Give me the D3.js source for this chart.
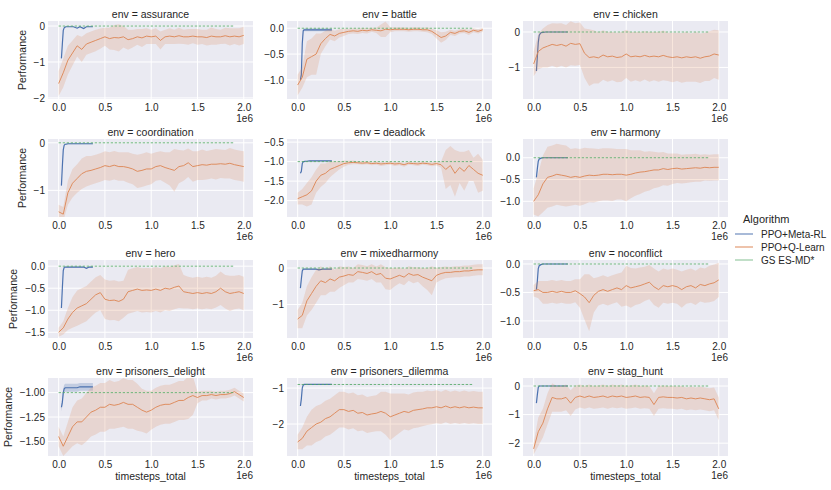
<!DOCTYPE html>
<html>
<head>
<meta charset="utf-8">
<script src="https://cdn.jsdelivr.net/npm/d3@7"></script>
<style>
  body { margin: 0; background: #ffffff; }
  svg { font-family: "Liberation Sans", Arial, sans-serif; }
</style>
</head>
<body>
<svg id="chart" width="831" height="490"></svg>
<script>
// ---- data (timesteps in units of 1e6) ----
const envs = ["assurance", "battle", "chicken", "coordination", "deadlock", "harmony",
    "hero", "mixedharmony", "noconflict", "prisoners_delight", "prisoners_dilemma", "stag_hunt"];
const algorithms = ["PPO+Meta-RL", "PPO+Q-Learn", "GS ES-MD*"];

const qSteps = [0, 0.05, 0.1, 0.15, 0.2, 0.25, 0.3, 0.35, 0.4, 0.45, 0.5, 0.55, 0.6, 0.65, 0.7, 0.75, 0.8, 0.85, 0.9, 0.95,
    1.0, 1.05, 1.1, 1.15, 1.2, 1.25, 1.3, 1.35, 1.4, 1.45, 1.5, 1.55, 1.6, 1.65, 1.7, 1.75, 1.8, 1.85, 1.9, 1.95, 2.0];
const metaSteps = [0.03, 0.04, 0.05, 0.06, 0.07, 0.08, 0.1, 0.13, 0.16, 0.2, 0.23, 0.27, 0.3, 0.33, 0.37];
const gsSpan = [0, 1.9];

const gsLevel = [0, 0, 0, 0, -1.0, 0, 0, 0, 0, -1.0, -0.9, 0];

const yLo = [-2.03, -1.37, -1.89, -1.56, -2.42, -1.36, -1.63, -1.92, -1.30, -1.65, -2.89, -2.45];
const yHi = [0.14, 0.14, 0.31, 0.08, -0.42, 0.43, 0.14, 0.22, 0.07, -0.85, -0.72, 0.28];
const yTicks = [
    [0, -1, -2], [0, -0.5, -1], [0, -1], [0, -1], [-0.5, -1, -1.5, -2], [0, -0.5, -1],
    [0, -0.5, -1, -1.5], [0, -1], [0, -0.5, -1], [-1, -1.25, -1.5], [-1, -2], [0, -1, -2]
];
const yTickDigits = [0, 1, 0, 0, 1, 1, 1, 0, 1, 2, 0, 0];
const xTicks = [0, 0.5, 1.0, 1.5, 2.0];

// PPO+Meta-RL
const assuranceMeta = [-0.9, -0.5, -0.12, -0.05, -0.03, -0.02, -0.02, -0.02, -0.02, -0.06, -0.02, -0.07, -0.02, -0.02, -0.02];
const battleMeta = [-1.0, -0.9, -0.3, -0.05, -0.03, -0.03, -0.03, -0.03, -0.03, -0.03, -0.03, -0.03, -0.03, -0.03, -0.03];
const chickenMeta = [-1.1, -0.7, -0.3, -0.1, -0.05, -0.02, -0.01, 0, 0, 0, 0, 0, 0, 0, 0];
const coordinationMeta = [-0.9, -0.5, -0.15, -0.05, -0.03, -0.03, -0.02, -0.02, -0.02, -0.02, -0.02, -0.02, -0.02, -0.02, -0.02];
const deadlockMeta = [-1.3, -1.25, -1.05, -1.0, -1.0, -0.99, -0.99, -0.98, -0.98, -0.98, -0.98, -0.98, -0.98, -0.98, -0.98];
const harmonyMeta = [-0.45, -0.25, -0.08, -0.03, -0.02, -0.01, 0, 0, 0, 0, 0, 0, 0, 0, 0];
const heroMeta = [-0.95, -0.5, -0.1, -0.03, -0.02, -0.02, -0.02, -0.02, -0.02, -0.02, -0.02, -0.02, -0.05, -0.02, -0.02];
const mixedharmonyMeta = [-0.55, -0.3, -0.08, -0.03, -0.03, -0.03, -0.03, -0.03, -0.03, -0.03, -0.05, -0.03, -0.03, -0.03, -0.03];
const noconflictMeta = [-0.45, -0.3, -0.08, -0.03, -0.02, -0.01, 0, 0, 0, 0, 0, 0, 0, 0, 0];
const delightMeta = [-1.15, -1.1, -1.0, -0.96, -0.95, -0.95, -0.95, -0.95, -0.95, -0.95, -0.94, -0.94, -0.94, -0.94, -0.94];
const dilemmaMeta = [-1.5, -1.3, -1.0, -0.92, -0.9, -0.9, -0.9, -0.9, -0.9, -0.9, -0.9, -0.9, -0.9, -0.9, -0.9];
const staghuntMeta = [-0.6, -0.3, -0.05, 0, 0, 0, 0, 0, 0, 0, 0, 0, 0, 0, 0];
const metaBand = [0.01, 0.03, 0.01, 0.01, 0.01, 0.01, 0.01, 0.01, 0.01, 0.04, 0.01, 0.01];

// PPO+Q-Learn mean and band half width
const assuranceQ = [-1.6, -1.3, -0.95, -0.75, -0.55, -0.65, -0.5, -0.45, -0.4, -0.35, -0.3, -0.35, -0.32, -0.33, -0.3, -0.38, -0.35, -0.3, -0.33, -0.28,
    -0.3, -0.28, -0.4, -0.3, -0.28, -0.3, -0.27, -0.3, -0.3, -0.28, -0.3, -0.3, -0.32, -0.28, -0.3, -0.3, -0.27, -0.3, -0.28, -0.3, -0.26];
const assuranceQBand = [0.35, 0.4, 0.4, 0.35, 0.3, 0.35, 0.3, 0.3, 0.3, 0.28, 0.25, 0.3, 0.35, 0.38, 0.3, 0.28, 0.25, 0.22, 0.25, 0.22,
    0.2, 0.22, 0.25, 0.2, 0.22, 0.2, 0.22, 0.2, 0.22, 0.2, 0.22, 0.2, 0.22, 0.24, 0.22, 0.2, 0.22, 0.24, 0.22, 0.24, 0.24];

const battleQ = [-1.1, -0.95, -0.6, -0.55, -0.5, -0.3, -0.2, -0.12, -0.15, -0.1, -0.08, -0.06, -0.05, -0.06, -0.04, -0.05, -0.03, -0.04, -0.05, -0.02,
    -0.03, -0.02, -0.02, -0.02, -0.03, -0.02, -0.02, -0.03, -0.03, -0.06, -0.12, -0.18, -0.15, -0.08, -0.1, -0.06, -0.05, -0.08, -0.04, -0.06, -0.03];
const battleQBand = [0.2, 0.2, 0.35, 0.35, 0.4, 0.2, 0.15, 0.1, 0.1, 0.08, 0.07, 0.05, 0.05, 0.05, 0.05, 0.05, 0.04, 0.05, 0.12, 0.15,
    0.05, 0.04, 0.04, 0.04, 0.04, 0.04, 0.04, 0.04, 0.05, 0.05, 0.08, 0.1, 0.08, 0.05, 0.05, 0.04, 0.04, 0.05, 0.04, 0.04, 0.04];

const chickenQ = [-0.9, -0.55, -0.45, -0.4, -0.35, -0.38, -0.35, -0.4, -0.32, -0.35, -0.33, -0.6, -0.72, -0.7, -0.73, -0.65, -0.7, -0.68, -0.72, -0.7,
    -0.62, -0.7, -0.68, -0.7, -0.66, -0.7, -0.68, -0.7, -0.66, -0.7, -0.72, -0.7, -0.73, -0.7, -0.72, -0.7, -0.74, -0.7, -0.68, -0.62, -0.65];
const chickenQBand = [0.35, 0.5, 0.55, 0.6, 0.6, 0.62, 0.6, 0.6, 0.62, 0.6, 0.6, 0.7, 0.8, 0.75, 0.72, 0.7, 0.7, 0.68, 0.7, 0.7,
    0.68, 0.7, 0.68, 0.7, 0.68, 0.7, 0.68, 0.7, 0.7, 0.68, 0.7, 0.68, 0.7, 0.7, 0.68, 0.7, 0.7, 0.68, 0.7, 0.68, 0.7];

const coordinationQ = [-1.45, -1.5, -1.05, -0.85, -0.75, -0.65, -0.6, -0.58, -0.55, -0.52, -0.48, -0.5, -0.47, -0.5, -0.5, -0.52, -0.55, -0.6, -0.58, -0.55,
    -0.55, -0.5, -0.48, -0.52, -0.55, -0.58, -0.5, -0.48, -0.42, -0.5, -0.48, -0.46, -0.47, -0.45, -0.45, -0.44, -0.45, -0.43, -0.46, -0.48, -0.5];
const coordinationQBand = [0.15, 0.15, 0.25, 0.3, 0.3, 0.32, 0.32, 0.3, 0.3, 0.3, 0.3, 0.3, 0.3, 0.3, 0.3, 0.32, 0.32, 0.35, 0.35, 0.35,
    0.32, 0.3, 0.3, 0.32, 0.35, 0.45, 0.35, 0.32, 0.3, 0.32, 0.3, 0.32, 0.3, 0.3, 0.32, 0.3, 0.3, 0.32, 0.32, 0.32, 0.32];

const deadlockQ = [-1.95, -1.9, -1.85, -1.75, -1.5, -1.35, -1.3, -1.2, -1.15, -1.1, -1.05, -1.03, -1.02, -1.03, -1.04, -1.03, -1.05, -1.04, -1.06, -1.05,
    -1.04, -1.06, -1.05, -1.08, -1.04, -1.05, -1.06, -1.04, -1.05, -1.07, -1.05, -1.08, -1.2, -1.1, -1.3, -1.15, -1.25, -1.1, -1.2, -1.3, -1.35];
const deadlockQBand = [0.15, 0.2, 0.3, 0.35, 0.3, 0.3, 0.25, 0.2, 0.15, 0.1, 0.08, 0.05, 0.05, 0.04, 0.04, 0.04, 0.04, 0.04, 0.05, 0.04,
    0.04, 0.05, 0.04, 0.05, 0.04, 0.04, 0.05, 0.04, 0.04, 0.05, 0.05, 0.08, 0.5, 0.5, 0.6, 0.4, 0.5, 0.4, 0.3, 0.5, 0.4];

const harmonyQ = [-1.0, -0.85, -0.6, -0.45, -0.42, -0.38, -0.4, -0.42, -0.45, -0.43, -0.45, -0.42, -0.4, -0.41, -0.4, -0.38, -0.38, -0.39, -0.38, -0.38,
    -0.4, -0.38, -0.35, -0.33, -0.32, -0.3, -0.28, -0.28, -0.25, -0.27, -0.25, -0.24, -0.26, -0.25, -0.24, -0.23, -0.24, -0.22, -0.23, -0.22, -0.22];
const harmonyQBand = [0.3, 0.5, 0.65, 0.7, 0.7, 0.7, 0.7, 0.7, 0.65, 0.65, 0.65, 0.65, 0.62, 0.62, 0.6, 0.6, 0.6, 0.6, 0.58, 0.58,
    0.6, 0.55, 0.52, 0.5, 0.46, 0.45, 0.42, 0.4, 0.38, 0.37, 0.35, 0.34, 0.33, 0.33, 0.32, 0.32, 0.31, 0.3, 0.3, 0.3, 0.3];

const heroQ = [-1.5, -1.4, -1.2, -1.05, -0.95, -0.9, -0.85, -0.75, -0.65, -0.6, -0.75, -0.78, -0.77, -0.8, -0.75, -0.58, -0.55, -0.52, -0.55, -0.54,
    -0.55, -0.52, -0.55, -0.5, -0.52, -0.48, -0.45, -0.58, -0.6, -0.62, -0.6, -0.62, -0.6, -0.62, -0.58, -0.5, -0.58, -0.62, -0.6, -0.58, -0.62];
const heroQBand = [0.1, 0.15, 0.25, 0.35, 0.4, 0.4, 0.4, 0.4, 0.4, 0.4, 0.45, 0.45, 0.45, 0.45, 0.42, 0.5, 0.5, 0.5, 0.5, 0.5,
    0.5, 0.5, 0.5, 0.5, 0.5, 0.5, 0.5, 0.38, 0.36, 0.36, 0.36, 0.36, 0.36, 0.36, 0.36, 0.38, 0.38, 0.4, 0.38, 0.38, 0.38];

const mixedharmonyQ = [-1.4, -1.3, -0.9, -0.7, -0.5, -0.35, -0.4, -0.3, -0.35, -0.25, -0.22, -0.18, -0.2, -0.1, -0.12, -0.15, -0.1, -0.18, -0.15, -0.28,
    -0.3, -0.25, -0.2, -0.25, -0.15, -0.2, -0.18, -0.25, -0.3, -0.35, -0.2, -0.15, -0.12, -0.12, -0.1, -0.1, -0.08, -0.08, -0.06, -0.05, -0.05];
const mixedharmonyQBand = [0.25, 0.35, 0.4, 0.45, 0.45, 0.4, 0.35, 0.35, 0.3, 0.3, 0.25, 0.22, 0.2, 0.2, 0.2, 0.2, 0.2, 0.22, 0.25, 0.3,
    0.3, 0.25, 0.22, 0.22, 0.2, 0.22, 0.2, 0.25, 0.3, 0.4, 0.2, 0.18, 0.16, 0.15, 0.15, 0.15, 0.15, 0.15, 0.15, 0.15, 0.15];

const noconflictQ = [-0.47, -0.45, -0.5, -0.5, -0.48, -0.5, -0.48, -0.5, -0.5, -0.47, -0.52, -0.58, -0.68, -0.55, -0.48, -0.45, -0.48, -0.45, -0.42, -0.45,
    -0.38, -0.42, -0.4, -0.38, -0.35, -0.32, -0.4, -0.45, -0.38, -0.4, -0.38, -0.4, -0.45, -0.4, -0.38, -0.42, -0.36, -0.38, -0.35, -0.33, -0.28];
const noconflictQBand = [0.1, 0.15, 0.2, 0.2, 0.2, 0.2, 0.2, 0.2, 0.2, 0.2, 0.25, 0.4, 0.5, 0.3, 0.25, 0.25, 0.25, 0.25, 0.25, 0.3,
    0.35, 0.35, 0.32, 0.32, 0.3, 0.3, 0.32, 0.32, 0.3, 0.3, 0.3, 0.3, 0.32, 0.3, 0.3, 0.3, 0.3, 0.3, 0.32, 0.32, 0.3];

const delightQ = [-1.45, -1.55, -1.45, -1.35, -1.3, -1.3, -1.25, -1.2, -1.18, -1.15, -1.15, -1.12, -1.13, -1.12, -1.1, -1.12, -1.12, -1.15, -1.18, -1.2,
    -1.18, -1.15, -1.13, -1.12, -1.12, -1.1, -1.08, -1.08, -1.05, -1.03, -1.05, -1.03, -1.03, -1.02, -1.03, -1.02, -1.02, -1.01, -0.99, -1.02, -1.05];
const delightQBand = [0.1, 0.1, 0.15, 0.2, 0.22, 0.24, 0.25, 0.25, 0.25, 0.25, 0.25, 0.25, 0.24, 0.24, 0.25, 0.25, 0.25, 0.24, 0.22, 0.22,
    0.2, 0.2, 0.2, 0.2, 0.2, 0.2, 0.2, 0.2, 0.22, 0.2, 0.06, 0.05, 0.05, 0.04, 0.04, 0.04, 0.04, 0.04, 0.04, 0.04, 0.04];

const dilemmaQ = [-2.5, -2.4, -2.2, -2.1, -2.0, -1.95, -1.85, -1.8, -1.7, -1.6, -1.6, -1.65, -1.62, -1.7, -1.68, -1.75, -1.72, -1.7, -1.65, -1.7,
    -1.8, -1.75, -1.7, -1.65, -1.68, -1.62, -1.6, -1.58, -1.55, -1.55, -1.52, -1.55, -1.5, -1.55, -1.52, -1.55, -1.52, -1.55, -1.53, -1.55, -1.55];
const dilemmaQBand = [0.2, 0.3, 0.4, 0.5, 0.5, 0.5, 0.5, 0.5, 0.5, 0.5, 0.5, 0.5, 0.5, 0.5, 0.5, 0.5, 0.5, 0.5, 0.55, 0.6,
    0.65, 0.6, 0.55, 0.5, 0.5, 0.5, 0.5, 0.48, 0.48, 0.46, 0.46, 0.45, 0.45, 0.45, 0.45, 0.45, 0.45, 0.45, 0.45, 0.45, 0.45];

const staghuntQ = [-2.2, -1.6, -1.3, -0.8, -0.4, -0.45, -0.45, -0.4, -0.6, -0.4, -0.35, -0.4, -0.35, -0.4, -0.38, -0.35, -0.4, -0.35, -0.38, -0.35,
    -0.4, -0.38, -0.35, -0.4, -0.38, -0.4, -0.65, -0.4, -0.38, -0.4, -0.4, -0.42, -0.4, -0.45, -0.42, -0.45, -0.42, -0.45, -0.48, -0.45, -0.8];
const staghuntQBand = [0.2, 0.5, 0.5, 0.55, 0.5, 0.45, 0.45, 0.45, 0.45, 0.42, 0.4, 0.4, 0.4, 0.4, 0.4, 0.4, 0.4, 0.4, 0.4, 0.4,
    0.4, 0.4, 0.4, 0.4, 0.4, 0.4, 0.4, 0.4, 0.4, 0.4, 0.4, 0.4, 0.4, 0.4, 0.4, 0.4, 0.4, 0.4, 0.4, 0.4, 0.4];

const metaSeries = [assuranceMeta, battleMeta, chickenMeta, coordinationMeta, deadlockMeta, harmonyMeta,
    heroMeta, mixedharmonyMeta, noconflictMeta, delightMeta, dilemmaMeta, staghuntMeta];
const qSeries = [assuranceQ, battleQ, chickenQ, coordinationQ, deadlockQ, harmonyQ,
    heroQ, mixedharmonyQ, noconflictQ, delightQ, dilemmaQ, staghuntQ];
const qBands = [assuranceQBand, battleQBand, chickenQBand, coordinationQBand, deadlockQBand, harmonyQBand,
    heroQBand, mixedharmonyQBand, noconflictQBand, delightQBand, dilemmaQBand, staghuntQBand];

// ---- layout / style ----
const colLeft = [48, 287, 523];
const rowTop = [21, 139, 260, 378];
const panelW = 205, panelH = 78;
const colors = {meta: "#4c72b0", q: "#dd8452", gs: "#55a868"};
const bg = "#eaeaf2";
const textColor = "#262626";

const svg = d3.select("#chart");

const x = d3.scaleLinear().domain([-0.115, 2.1]).range([0, panelW]);

envs.forEach((env, i) => {
    const col = i % 3, row = Math.floor(i / 3);
    const g = svg.append("g").attr("transform", `translate(${colLeft[col]},${rowTop[row]})`);
    const y = d3.scaleLinear().domain([yLo[i], yHi[i]]).range([panelH, 0]);
    const fmt = d3.format("." + yTickDigits[i] + "f");

    g.append("rect").attr("width", panelW).attr("height", panelH).attr("fill", bg);

    // grid
    g.selectAll(".xg").data(xTicks).join("line")
        .attr("x1", d => x(d)).attr("x2", d => x(d))
        .attr("y1", 0).attr("y2", panelH)
        .attr("stroke", "#fff").attr("stroke-width", 1);
    g.selectAll(".yg").data(yTicks[i]).join("line")
        .attr("class", "yg")
        .attr("x1", 0).attr("x2", panelW)
        .attr("y1", d => y(d)).attr("y2", d => y(d))
        .attr("stroke", "#fff").attr("stroke-width", 1);

    g.append("clipPath").attr("id", "clip" + i)
        .append("rect").attr("width", panelW).attr("height", panelH);
    const plot = g.append("g").attr("clip-path", `url(#clip${i})`);

    // PPO+Meta-RL
    const meta = metaSteps.map((t, k) => ({t, v: metaSeries[i][k]}));
    plot.append("path").datum(meta)
        .attr("d", d3.area().x(d => x(d.t)).y0(d => y(d.v - metaBand[i])).y1(d => y(d.v + metaBand[i])))
        .attr("fill", colors.meta).attr("opacity", 0.25);
    plot.append("path").datum(meta)
        .attr("d", d3.line().x(d => x(d.t)).y(d => y(d.v)))
        .attr("fill", "none").attr("stroke", colors.meta).attr("stroke-width", 1.2);

    // PPO+Q-Learn
    const q = qSteps.map((t, k) => ({t, v: qSeries[i][k], w: qBands[i][k]}));
    plot.append("path").datum(q)
        .attr("d", d3.area().x(d => x(d.t)).y0(d => y(d.v - d.w)).y1(d => y(d.v + d.w)))
        .attr("fill", colors.q).attr("opacity", 0.2);
    plot.append("path").datum(q)
        .attr("d", d3.line().x(d => x(d.t)).y(d => y(d.v)))
        .attr("fill", "none").attr("stroke", colors.q).attr("stroke-width", 0.9);

    // GS ES-MD*
    plot.append("path").datum(gsSpan.map(t => ({t, v: gsLevel[i]})))
        .attr("d", d3.line().x(d => x(d.t)).y(d => y(d.v)))
        .attr("fill", "none").attr("stroke", colors.gs).attr("stroke-width", 1)
        .attr("stroke-dasharray", "2.5,1.5").attr("opacity", 0.85);

    // axes
    const xAxis = g.append("g").attr("transform", `translate(0,${panelH})`)
        .call(d3.axisBottom(x).tickValues(xTicks).tickFormat(d3.format(".1f")).tickSize(0).tickPadding(5));
    const yAxis = g.append("g")
        .call(d3.axisLeft(y).tickValues(yTicks[i]).tickFormat(fmt).tickSize(0).tickPadding(3));
    [xAxis, yAxis].forEach(a => {
        a.select(".domain").remove();
        a.selectAll("text").attr("fill", textColor).style("font-size", "10px")
            .style("font-family", "'Liberation Sans', Arial, sans-serif");
    });

    g.append("text").attr("x", panelW).attr("y", panelH + 23)
        .attr("text-anchor", "end").attr("fill", textColor).style("font-size", "10px").text("1e6");

    g.append("text").attr("x", panelW / 2).attr("y", -3)
        .attr("text-anchor", "middle").attr("fill", textColor).style("font-size", "10.5px")
        .text("env = " + env);

    if (col === 0) {
        // place the label just left of the widest tick label
        let tickW = 0;
        yAxis.selectAll("text").each(function () { tickW = Math.max(tickW, this.getComputedTextLength()); });
        g.append("text")
            .attr("transform", `translate(${-3 - tickW - 8},${panelH / 2}) rotate(-90)`)
            .attr("text-anchor", "middle").attr("fill", textColor).style("font-size", "10.5px")
            .text("Performance");
    }
    if (row === 3) {
        g.append("text").attr("x", panelW / 2).attr("y", panelH + 24)
            .attr("text-anchor", "middle").attr("fill", textColor).style("font-size", "10.5px")
            .text("timesteps_total");
    }
});

// legend
const legend = svg.append("g").attr("transform", "translate(735,219)");
legend.append("text").attr("x", 8).attr("y", 4).attr("fill", textColor)
    .style("font-size", "11px").text("Algorithm");
const legendColors = [colors.meta, colors.q, colors.gs];
const items = legend.selectAll(".item").data(algorithms).join("g")
    .attr("transform", (d, k) => `translate(0,${15 + k * 13})`);
items.append("line").attr("x1", 0).attr("x2", 18).attr("y1", 0).attr("y2", 0)
    .attr("stroke", (d, k) => legendColors[k]).attr("stroke-width", 1.2)
    .attr("opacity", (d, k) => k === 2 ? 0.6 : 0.8);
items.append("text").attr("x", 26).attr("y", 3.5).attr("fill", textColor)
    .style("font-size", "10px").text(d => d);
</script>
</body>
</html>
